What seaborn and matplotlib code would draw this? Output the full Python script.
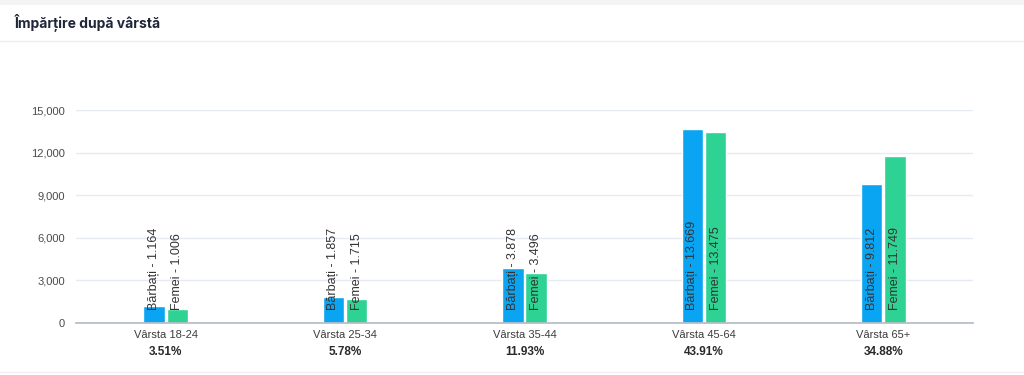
import matplotlib
matplotlib.use("Agg")
import matplotlib.pyplot as plt
import matplotlib.transforms as mtransforms
from matplotlib.ticker import FuncFormatter, FixedLocator
import seaborn as sns
import pandas as pd

# data
categories = ["Vârsta 18-24", "Vârsta 25-34", "Vârsta 35-44", "Vârsta 45-64", "Vârsta 65+"]
shares = ["3.51%", "5.78%", "11.93%", "43.91%", "34.88%"]
barbati = [1164, 1857, 3878, 13669, 9812]
femei = [1006, 1715, 3496, 13475, 11749]
series = ["Bărbați", "Femei"]
colors = ["#0AA5F2", "#2ED293"]

df = pd.DataFrame({
    "cat": categories * 2,
    "serie": [series[0]] * 5 + [series[1]] * 5,
    "val": barbati + femei,
})

sns.set_theme(style="white")
plt.rcParams["font.family"] = ["Liberation Sans", "DejaVu Sans"]

fig = plt.figure(figsize=(10.24, 3.75), dpi=100)
fig.patch.set_facecolor("white")

# card frame: grey strip on top, divider under the title, bottom edge
fig.add_artist(plt.Rectangle((0, 1 - 5 / 375), 1, 5 / 375, transform=fig.transFigure,
                             color="#f4f4f5", lw=0))
fig.add_artist(plt.Line2D([0, 1], [1 - 41 / 375] * 2, transform=fig.transFigure,
                          color="#eeeff2", lw=1))
fig.add_artist(plt.Line2D([0, 1], [3 / 375] * 2, transform=fig.transFigure,
                          color="#eeeff2", lw=1))
fig.text(15 / 1024, 1 - 22 / 375, "Împărțire după vârstă", fontsize=10, fontweight="bold",
         color="#1f2638", va="center", ha="left", family=["Inter", "DejaVu Sans"])

ax = fig.add_axes([76 / 1024, 52 / 375, 897 / 1024, 213 / 375])
sns.barplot(data=df, x="cat", y="val", hue="serie", palette=colors, width=0.26, gap=0.08,
            order=categories, hue_order=series, ax=ax, legend=False, saturation=1)

ax.set_ylim(0, 15000)
ax.set_xlim(-0.5, len(categories) - 0.5)
ax.set_yticks(range(0, 15001, 3000))
ax.yaxis.set_major_formatter(FuncFormatter(lambda v, p: f"{int(v):,}"))
ax.grid(axis="y", color="#e6eaf2", lw=1)
ax.set_axisbelow(True)
for s in ["top", "right", "left"]:
    ax.spines[s].set_visible(False)
ax.spines["bottom"].set_color("#b8bcc4")
ax.set_xlabel("")
ax.set_ylabel("")
ax.tick_params(axis="y", length=0, labelsize=8, labelcolor="#4a4a4a", pad=8)

# tick marks at category boundaries, labels at centres
ax.set_xticks(range(len(categories)))
ax.set_xticklabels(categories)
ax.tick_params(axis="x", which="major", length=0, labelsize=8, labelcolor="#3c3c3c", pad=5)
ax.xaxis.set_minor_locator(FixedLocator([i - 0.5 for i in range(len(categories) + 1)]))
ax.tick_params(axis="x", which="minor", length=5, color="#b8bcc4", width=1)

trans = mtransforms.blended_transform_factory(ax.transData, ax.transAxes)
for i, s in enumerate(shares):
    ax.text(i, -0.11, s, transform=trans, ha="center", va="top", fontsize=8.5,
            fontweight="bold", color="#2a2a2a")

# vertical data labels, starting just above the baseline
for cont, name in zip(ax.containers, series):
    for bar, v in zip(cont, df.loc[df.serie == name, "val"]):
        lbl = f"{name} - {v:,}".replace(",", ".")
        ax.annotate(lbl, (bar.get_x() + bar.get_width() / 2, 0), xytext=(0, 13),
                    textcoords="offset pixels",
                    rotation=90, rotation_mode="anchor", ha="left", va="center",
                    fontsize=9, color="#333333")

fig.savefig("out.png", dpi=100)
